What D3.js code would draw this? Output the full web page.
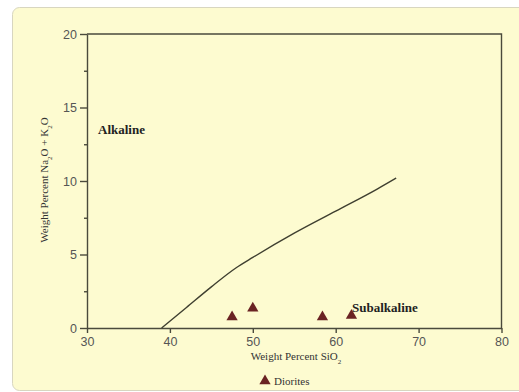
<!DOCTYPE html>
<html>
<head>
<meta charset="utf-8">
<script src="https://cdn.jsdelivr.net/npm/d3@7"></script>
<style>
  body { margin: 0; background: #fff; }
  svg { display: block; }
</style>
</head>
<body>
<div id="chart"></div>
<script>
// boundary line alkaline / subalkaline (SiO2, Na2O+K2O)
const boundarySiO2 = [39, 42, 45, 48, 50, 55, 60, 65, 67.3];
const boundaryAlk  = [0, 1.4, 2.8, 4.1, 4.8, 6.45, 7.95, 9.45, 10.2];

// diorite samples
const sampleSiO2 = [47.5, 50, 58.4, 61.9];
const sampleAlk  = [0.75, 1.35, 0.75, 0.85];

const xTicks = [30, 40, 50, 60, 70, 80];
const yTicks = [0, 5, 10, 15, 20];
const yMinorTicks = [2.5, 7.5, 12.5, 17.5];

const width = 519, height = 392;
const margin = {top: 34, right: 18, bottom: 64, left: 87};
const axisColor = "#4a4a3c";

const svg = d3.select("#chart").append("svg")
    .attr("width", width)
    .attr("height", height);

// panel background
svg.append("rect")
    .attr("x", 12.5).attr("y", 7.5)
    .attr("width", 530).attr("height", 383)
    .attr("rx", 7)
    .attr("fill", "#fdfbd0")
    .attr("stroke", "#d8d6c0");

const x = d3.scaleLinear().domain([30, 80]).range([margin.left, 501.5]);
const y = d3.scaleLinear().domain([0, 20]).range([328, margin.top]);

// frame top + right
svg.append("path")
    .attr("d", "M" + x(30) + "," + y(20) + "H" + x(80) + "V" + y(0))
    .attr("fill", "none")
    .attr("stroke", axisColor)
    .attr("stroke-width", 1.4);

// x axis
svg.append("g")
    .attr("transform", "translate(0," + y(0) + ")")
    .call(d3.axisBottom(x).tickValues(xTicks).tickSize(5).tickSizeOuter(0).tickPadding(4));

// y axis
svg.append("g")
    .attr("transform", "translate(" + x(30) + ",0)")
    .call(d3.axisLeft(y).tickValues(yTicks).tickSize(7).tickSizeOuter(0).tickPadding(3));

svg.append("g")
    .attr("transform", "translate(" + x(30) + ",0)")
    .call(d3.axisLeft(y).tickValues(yMinorTicks).tickSize(3).tickFormat("").tickSizeOuter(0))
    .select(".domain").remove();

svg.selectAll(".domain, .tick line")
    .attr("stroke", axisColor)
    .attr("stroke-width", 1.4);

svg.selectAll(".tick text")
    .attr("fill", "#555")
    .style("font-family", "Liberation Sans, Arial, sans-serif")
    .style("font-size", "12.5px");

// boundary line
const line = d3.line()
    .curve(d3.curveMonotoneX)
    .x(function(d) { return x(d[0]); })
    .y(function(d) { return y(d[1]); });

svg.append("path")
    .datum(d3.zip(boundarySiO2, boundaryAlk))
    .attr("fill", "none")
    .attr("stroke", "#3f3f30")
    .attr("stroke-width", 1.4)
    .attr("d", line);

// samples
const tri = d3.symbol().type(d3.symbolTriangle).size(55);
svg.selectAll(".sample")
    .data(d3.zip(sampleSiO2, sampleAlk))
    .enter().append("path")
    .attr("class", "sample")
    .attr("transform", function(d) { return "translate(" + x(d[0]) + "," + y(d[1]) + ")"; })
    .attr("fill", "#6a2323")
    .attr("d", tri);

// field labels
const serif = "Liberation Serif, Times New Roman, serif";
svg.append("text")
    .attr("x", 98).attr("y", 134)
    .style("font-family", serif)
    .style("font-weight", "bold")
    .style("font-size", "13px")
    .attr("fill", "#222")
    .text("Alkaline");

svg.append("text")
    .attr("x", 352).attr("y", 312)
    .style("font-family", serif)
    .style("font-weight", "bold")
    .style("font-size", "13px")
    .attr("fill", "#222")
    .text("Subalkaline");

// axis titles
const xTitle = svg.append("text")
    .attr("x", 296).attr("y", 360)
    .attr("text-anchor", "middle")
    .style("font-family", serif)
    .style("font-size", "11px")
    .attr("fill", "#333");
xTitle.append("tspan").text("Weight Percent SiO");
xTitle.append("tspan").attr("baseline-shift", "sub").style("font-size", "7px").text("2");

const yTitle = svg.append("text")
    .attr("transform", "translate(48,180) rotate(-90)")
    .attr("text-anchor", "middle")
    .style("font-family", serif)
    .style("font-size", "11px")
    .attr("fill", "#333");
yTitle.append("tspan").text("Weight Percent Na");
yTitle.append("tspan").attr("baseline-shift", "sub").style("font-size", "7px").text("2");
yTitle.append("tspan").text("O + K");
yTitle.append("tspan").attr("baseline-shift", "sub").style("font-size", "7px").text("2");
yTitle.append("tspan").text("O");

// legend
svg.append("path")
    .attr("transform", "translate(265,381)")
    .attr("fill", "#6a2323")
    .attr("d", tri);
svg.append("text")
    .attr("x", 274).attr("y", 385)
    .style("font-family", serif)
    .style("font-size", "11px")
    .attr("fill", "#333")
    .text("Diorites");
</script>
</body>
</html>
